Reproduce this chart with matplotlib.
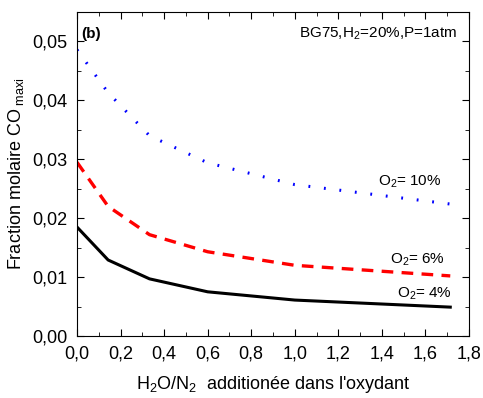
import matplotlib
matplotlib.use("Agg")
import matplotlib.pyplot as plt
from matplotlib.ticker import MultipleLocator, FuncFormatter

plt.rcParams['font.family'] = ['Liberation Sans', 'DejaVu Sans']
plt.rcParams['mathtext.fontset'] = 'custom'
plt.rcParams['mathtext.rm'] = 'Liberation Sans'
plt.rcParams['mathtext.it'] = 'Liberation Sans:italic'

# H2O/N2 ratio added to the oxidiser
ratio = [0.0, 0.143, 0.333, 0.6, 1.0, 1.714]
co_o2_4 = [0.0185, 0.0129, 0.0097, 0.0075, 0.0061, 0.0049]
co_o2_6 = [0.0295, 0.0220, 0.0172, 0.0143, 0.0120, 0.0102]
co_o2_10 = [0.0486, 0.0413, 0.0340, 0.0294, 0.0257, 0.0224]

fig = plt.figure(figsize=(4.83, 3.98), dpi=100)
ax = fig.add_axes([0.1594, 0.1558, 0.8116, 0.814])

ax.plot(ratio, co_o2_4, color='black', lw=2.2)
ax.plot(ratio, co_o2_6, color='red', lw=2.4, linestyle=(0, (3.5, 2.5)))
ax.plot(ratio, co_o2_10, color='blue', lw=2.2, linestyle=(0, (0.6, 4.5)))

ax.set_xlim(0, 1.8)
ax.set_ylim(0, 0.055)
ax.xaxis.set_major_locator(MultipleLocator(0.2))
ax.xaxis.set_minor_locator(MultipleLocator(0.1))
ax.yaxis.set_major_locator(MultipleLocator(0.01))
ax.yaxis.set_minor_locator(MultipleLocator(0.005))
ax.xaxis.set_major_formatter(FuncFormatter(lambda v, p: f"{v:.1f}".replace('.', ',')))
ax.yaxis.set_major_formatter(FuncFormatter(lambda v, p: f"{v:.2f}".replace('.', ',')))
ax.tick_params(which='both', direction='in', top=True, right=True, labelsize=13)
ax.tick_params(which='major', length=5, pad=7)
ax.tick_params(which='minor', length=3)

ax.set_xlabel(r"H$_{\rm 2}$O/N$_{\rm 2}$  additionée dans l'oxydant", fontsize=13, labelpad=8)
ax.set_ylabel(r"Fraction molaire CO$_{\rm\ maxi}$", fontsize=13)

ax.text(0.01, 0.932, "(b)", transform=ax.transAxes, fontsize=11, fontweight='bold', va='center')
ax.text(0.97, 0.932, r"BG75,H$_{\rm 2}$=20%,P=1atm", transform=ax.transAxes,
        fontsize=11, ha='right', va='center')
ax.text(1.675, 0.0262, r"O$_{\rm 2}$= 10%", fontsize=11, ha='right', va='center')
ax.text(1.69, 0.0130, r"O$_{\rm 2}$= 6%", fontsize=11, ha='right', va='center')
ax.text(1.72, 0.0072, r"O$_{\rm 2}$= 4%", fontsize=11, ha='right', va='center')

fig.savefig("out.png", dpi=100)
